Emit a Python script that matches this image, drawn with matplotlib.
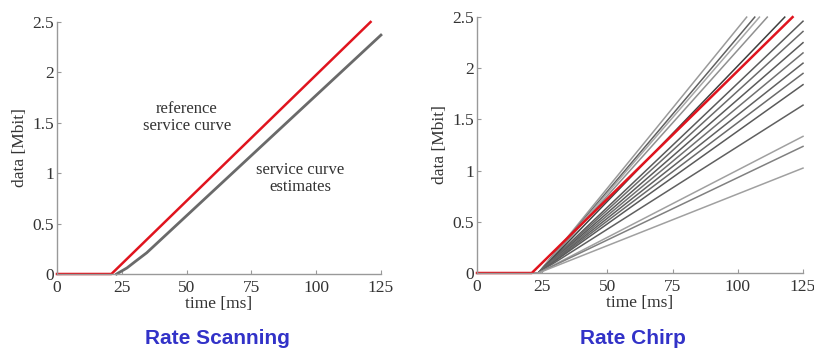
import matplotlib.pyplot as plt
import numpy as np

plt.rcParams['font.family'] = ['Liberation Serif', 'DejaVu Serif']

# Rate scanning: reference curve and estimate (time in ms, data in Mbit)
ref_t = [0, 21, 121]
ref_d = [0, 0, 2.5]
est_t = [23, 27, 30, 34.6, 125]
est_d = [0, 0.06, 0.12, 0.21, 2.37]

# Rate chirp: estimate lines, each starts at chirp_start and reaches an end point
chirp_start = 23.5
chirp_end_t = [103.4, 106.5, 108.3, 111.3, 118.0,
               125, 125, 125, 125, 125, 125, 125, 125, 125, 125, 125]
chirp_end_d = [2.5, 2.5, 2.5, 2.5, 2.5,
               2.46, 2.36, 2.25, 2.15, 2.05, 1.95, 1.84, 1.64, 1.335, 1.237, 1.025]
chirp_grey = ['#9a9a9a', '#606060', '#a8a8a8', '#909090', '#404040',
              '#5a5a5a', '#6a6a6a', '#5a5a5a', '#707070', '#606060', '#6a6a6a',
              '#5a5a5a', '#606060', '#a0a0a0', '#808080', '#a0a0a0']

fig = plt.figure(figsize=(8.14, 3.52), dpi=100)
ax1 = fig.add_axes([0.070, 0.2216, 0.398, 0.716])
ax2 = fig.add_axes([0.586, 0.2244, 0.4005, 0.727])

text_col = '#333333'


def style(ax):
    ax.set_xlim(0, 125)
    ax.set_ylim(0, 2.5)
    ax.set_xticks([0, 25, 50, 75, 100, 125])
    ax.set_yticks([0, 0.5, 1, 1.5, 2, 2.5])
    ax.set_yticklabels(['0', '0.5', '1', '1.5', '2', '2.5'])
    for s in ['top', 'right']:
        ax.spines[s].set_visible(False)
    for s in ['left', 'bottom']:
        ax.spines[s].set_color('#999999')
        ax.spines[s].set_linewidth(1.0)
    ax.tick_params(direction='in', length=3, color='#999999', labelsize=12.5,
                   labelcolor=text_col, pad=2)
    ax.tick_params(axis='x', pad=4)
    ax.set_xlabel('time [ms]', fontsize=12.5, color=text_col, labelpad=0)
    ax.set_ylabel('data [Mbit]', fontsize=12.5, color=text_col, labelpad=3)


ax1.plot(est_t, est_d, color='#6a6a6a', lw=2.0, clip_on=False)
ax1.plot(ref_t, ref_d, color='#e0141e', lw=1.8, clip_on=False)
ax1.text(50.2, 1.55, 'reference\nservice curve', ha='center', va='center',
         fontsize=12, color=text_col, linespacing=1.05)
ax1.text(93.8, 0.95, 'service curve\nestimates', ha='center', va='center',
         fontsize=12, color=text_col, linespacing=1.05)
style(ax1)

for te, de, c in zip(chirp_end_t, chirp_end_d, chirp_grey):
    ax2.plot([0, chirp_start, te], [0, 0, de], color=c, lw=1.1, clip_on=False)
ax2.plot(ref_t, ref_d, color='#e0141e', lw=1.8, clip_on=False)
style(ax2)

fig.text(0.267, 0.038, 'Rate Scanning', ha='center', va='center', fontsize=15,
         fontweight='bold', color='#3232c8', family=['Liberation Sans', 'DejaVu Sans'])
fig.text(0.778, 0.038, 'Rate Chirp', ha='center', va='center', fontsize=15,
         fontweight='bold', color='#3232c8', family=['Liberation Sans', 'DejaVu Sans'])

fig.savefig('out.png', dpi=100)
